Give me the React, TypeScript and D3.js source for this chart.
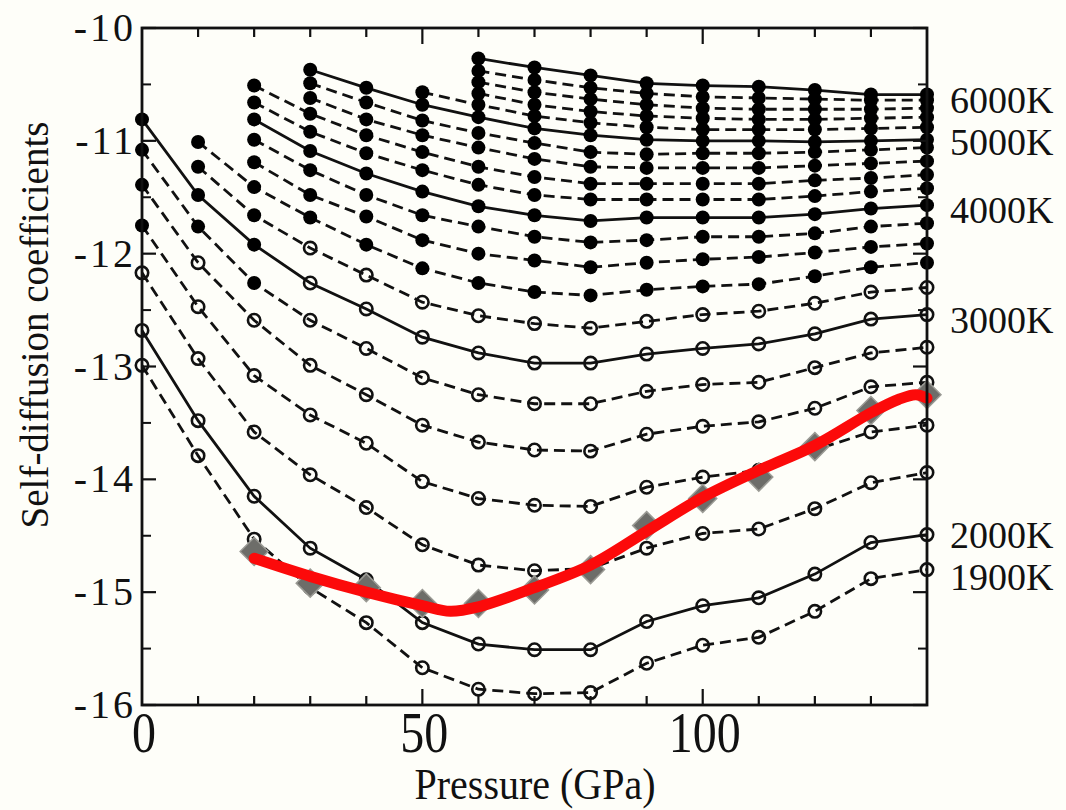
import React from "react";
import * as d3 from "d3";

// pressure grid (GPa)
const pressures = [0, 10, 20, 30, 40, 50, 60, 70, 80, 90, 100, 110, 120, 130, 140];

const temps = [1900, 2000, 2200, 2400, 2600, 2800, 3000, 3200, 3400, 3600, 3800, 4000, 4200, 4400, 4600, 4800, 5000, 5200, 5400, 5600, 5800, 6000];

// log10 self-diffusion coefficients (null = no point)
const t1900 = [-12.99, -13.79, -14.53, -14.96, -15.27, -15.67, -15.86, -15.9, -15.89, -15.63, -15.47, -15.4, -15.17, -14.88, -14.8];
const t2000 = [-12.68, -13.48, -14.15, -14.61, -14.89, -15.27, -15.46, -15.51, -15.51, -15.26, -15.12, -15.05, -14.84, -14.56, -14.49];
const t2200 = [-12.17, -12.93, -13.58, -13.96, -14.25, -14.58, -14.76, -14.81, -14.79, -14.61, -14.48, -14.44, -14.26, -14.03, -13.94];
const t2400 = [-11.75, -12.47, -13.08, -13.43, -13.68, -14.02, -14.17, -14.23, -14.24, -14.07, -13.98, -13.92, -13.74, -13.58, -13.52];
const t2600 = [-11.39, -12.08, -12.59, -12.99, -13.25, -13.52, -13.67, -13.74, -13.75, -13.6, -13.53, -13.49, -13.37, -13.18, -13.14];
const t2800 = [-11.08, -11.76, -12.26, -12.59, -12.84, -13.1, -13.25, -13.33, -13.33, -13.22, -13.16, -13.14, -13.01, -12.88, -12.83];
const t3000 = [-10.81, -11.48, -11.92, -12.26, -12.49, -12.74, -12.88, -12.97, -12.97, -12.89, -12.84, -12.8, -12.71, -12.58, -12.54];
const t3200 = [null, -11.23, -11.66, -11.95, -12.19, -12.43, -12.55, -12.62, -12.66, -12.6, -12.54, -12.51, -12.44, -12.34, -12.3];
const t3400 = [null, -11.01, -11.41, -11.68, -11.92, -12.13, -12.26, -12.34, -12.37, -12.32, -12.29, -12.27, -12.2, -12.12, -12.08];
const t3600 = [null, null, -11.19, -11.48, -11.67, -11.88, -12.0, -12.06, -12.12, -12.08, -12.05, -12.03, -11.99, -11.94, -11.91];
const t3800 = [null, null, -10.99, -11.26, -11.48, -11.66, -11.76, -11.85, -11.9, -11.88, -11.85, -11.85, -11.82, -11.76, -11.73];
const t4000 = [null, null, -10.81, -11.09, -11.29, -11.45, -11.58, -11.66, -11.71, -11.68, -11.68, -11.68, -11.65, -11.6, -11.57];
const t4200 = [null, null, -10.66, -10.92, -11.11, -11.26, -11.39, -11.48, -11.52, -11.52, -11.52, -11.52, -11.49, -11.45, -11.42];
const t4400 = [null, null, -10.51, -10.76, -10.95, -11.1, -11.23, -11.32, -11.38, -11.38, -11.38, -11.38, -11.35, -11.33, -11.3];
const t4600 = [null, null, null, -10.62, -10.81, -10.95, -11.06, -11.16, -11.23, -11.24, -11.24, -11.24, -11.22, -11.2, -11.18];
const t4800 = [null, null, null, -10.49, -10.66, -10.82, -10.93, -11.02, -11.1, -11.12, -11.11, -11.11, -11.1, -11.08, -11.06];
const t5000 = [null, null, null, -10.37, -10.53, -10.68, -10.79, -10.89, -10.95, -10.99, -11.0, -11.0, -11.01, -11.0, -10.99];
const t5200 = [null, null, null, null, null, -10.57, -10.68, -10.78, -10.84, -10.88, -10.9, -10.9, -10.9, -10.89, -10.88];
const t5400 = [null, null, null, null, null, null, -10.58, -10.68, -10.74, -10.78, -10.8, -10.81, -10.81, -10.8, -10.79];
const t5600 = [null, null, null, null, null, null, -10.48, -10.57, -10.63, -10.68, -10.71, -10.72, -10.72, -10.72, -10.71];
const t5800 = [null, null, null, null, null, null, -10.38, -10.46, -10.53, -10.58, -10.61, -10.62, -10.63, -10.64, -10.64];
const t6000 = [null, null, null, null, null, null, -10.27, -10.35, -10.42, -10.49, -10.51, -10.52, -10.55, -10.59, -10.59];

const seriesValues = [t1900, t2000, t2200, t2400, t2600, t2800, t3000, t3200, t3400, t3600, t3800, t4000, t4200, t4400, t4600, t4800, t5000, t5200, t5400, t5600, t5800, t6000];

// highest pressure drawn with a filled marker, per temperature (-1 = all open)
const filledThrough = [-1, -1, -1, 0, 0, 20, 20, 20, 140, 140, 140, 140, 140, 140, 140, 140, 140, 140, 140, 140, 140, 140];

// grey diamonds
const diamondP = [20, 30, 40, 50, 60, 70, 80, 90, 100, 110, 120, 130, 140];
const diamondV = [-14.64, -14.92, -14.96, -15.1, -15.1, -14.98, -14.8, -14.41, -14.17, -13.98, -13.71, -13.39, -13.25];

// red fitted curve
const redP = [20, 30, 40, 50, 55, 60, 70, 80, 90, 100, 110, 120, 130, 135, 138, 140];
const redV = [-14.7, -14.86, -15.0, -15.12, -15.17, -15.13, -14.96, -14.76, -14.46, -14.16, -13.92, -13.7, -13.41, -13.29, -13.25, -13.28];

const labelTexts = ["6000K", "5000K", "4000K", "3000K", "2000K", "1900K"];
const labelValues = [-10.64, -11.01, -11.61, -12.59, -14.49, -14.87];

const yTicks = [-10, -11, -12, -13, -14, -15, -16];
const yMinor = [-10.5, -11.5, -12.5, -13.5, -14.5, -15.5];
const xTicks = [10, 20, 30, 40, 50, 60, 70, 80, 90, 100, 110, 120, 130];
const xTickLabels = [0, 50, 100];

const W = 1066;
const H = 810;
const serif = "'Liberation Serif', 'Times New Roman', serif";

export default function App() {
  const x = d3.scaleLinear().domain([0, 140]).range([142, 927]);
  const y = d3.scaleLinear().domain([-16, -10]).range([705, 28]);

  const line = d3
    .line<[number, number | null]>()
    .defined((d) => d[1] !== null)
    .x((d) => x(d[0]))
    .y((d) => y(d[1] as number));

  const redLine = d3
    .line<number>()
    .x((d, i) => x(redP[i]))
    .y((d) => y(d))
    .curve(d3.curveCatmullRom.alpha(0.5));

  const [x0, x1] = x.range();
  const [y0, y1] = y.range();

  return (
    <svg width={W} height={H} style={{ position: "absolute", left: 0, top: 0 }}>
      <rect width={W} height={H} fill="#fefef9" />

      {/* temperature series */}
      {seriesValues.map((vals, i) => {
        const pts = pressures.map((p, j) => [p, vals[j]] as [number, number | null]);
        const solid = temps[i] % 1000 === 0;
        return (
          <path
            key={"l" + i}
            d={line(pts) || ""}
            fill="none"
            stroke="#111"
            strokeWidth={2.8}
            strokeDasharray={solid ? undefined : "11,6"}
          />
        );
      })}
      {seriesValues.map((vals, i) =>
        pressures.map((p, j) => {
          const v = vals[j];
          if (v === null) return null;
          const filled = p <= filledThrough[i];
          return filled ? (
            <circle key={`m${i}-${j}`} cx={x(p)} cy={y(v)} r={7} fill="#000" />
          ) : (
            <circle key={`m${i}-${j}`} cx={x(p)} cy={y(v)} r={6.2} fill="none" stroke="#111" strokeWidth={2.6} />
          );
        })
      )}

      {/* grey diamonds */}
      {diamondP.map((p, i) => {
        const cx = x(p);
        const cy = y(diamondV[i]);
        const s = 14;
        return (
          <path
            key={"d" + i}
            d={`M${cx},${cy - s}L${cx + s},${cy}L${cx},${cy + s}L${cx - s},${cy}Z`}
            fill="#6d6d69"
            stroke="#9a9a94"
            strokeWidth={1.5}
          />
        );
      })}

      {/* red curve */}
      <path d={redLine(redV) || ""} fill="none" stroke="#fc0a0a" strokeWidth={11} strokeLinecap="round" strokeLinejoin="round" />

      {/* frame */}
      <rect x={x0} y={y1} width={x1 - x0} height={y0 - y1} fill="none" stroke="#111" strokeWidth={2.8} />

      {/* y ticks */}
      {yTicks.map((t) => (
        <g key={"yt" + t}>
          <line x1={x0} x2={x0 + 14} y1={y(t)} y2={y(t)} stroke="#111" strokeWidth={2.2} />
          <line x1={x1} x2={x1 - 14} y1={y(t)} y2={y(t)} stroke="#111" strokeWidth={2.2} />
          <text x={136} y={y(t) + 13} textAnchor="end" fontFamily={serif} fontSize={40} letterSpacing={3} fill="#111">
            {t}
          </text>
        </g>
      ))}
      {yMinor.map((t) => (
        <g key={"ym" + t}>
          <line x1={x0} x2={x0 + 9} y1={y(t)} y2={y(t)} stroke="#111" strokeWidth={2} />
          <line x1={x1} x2={x1 - 9} y1={y(t)} y2={y(t)} stroke="#111" strokeWidth={2} />
        </g>
      ))}

      {/* x ticks */}
      {xTicks.map((t) => {
        const len = t % 50 === 0 ? 16 : 9;
        return (
          <g key={"xt" + t}>
            <line x1={x(t)} x2={x(t)} y1={y0} y2={y0 - len} stroke="#111" strokeWidth={2.2} />
            <line x1={x(t)} x2={x(t)} y1={y1} y2={y1 + len} stroke="#111" strokeWidth={2.2} />
          </g>
        );
      })}
      {xTickLabels.map((t) => (
        <text
          key={"xl" + t}
          transform={`translate(${x(t) + 2},${752}) scale(1,1.2)`}
          textAnchor="middle"
          fontFamily={serif}
          fontSize={48}
          fill="#111"
        >
          {t}
        </text>
      ))}

      {/* axis titles */}
      <text transform="translate(535,799) scale(1,1.1)" textAnchor="middle" fontFamily={serif} fontSize={40} fill="#111">
        Pressure (GPa)
      </text>
      <text transform="translate(48,325) rotate(-90)" textAnchor="middle" fontFamily={serif} fontSize={39} fill="#111">
        Self-diffusion coefficients
      </text>

      {/* temperature labels */}
      {labelTexts.map((s, i) => (
        <text key={"tl" + i} x={950} y={y(labelValues[i]) + 13} fontFamily={serif} fontSize={38} fill="#111">
          {s}
        </text>
      ))}
    </svg>
  );
}
